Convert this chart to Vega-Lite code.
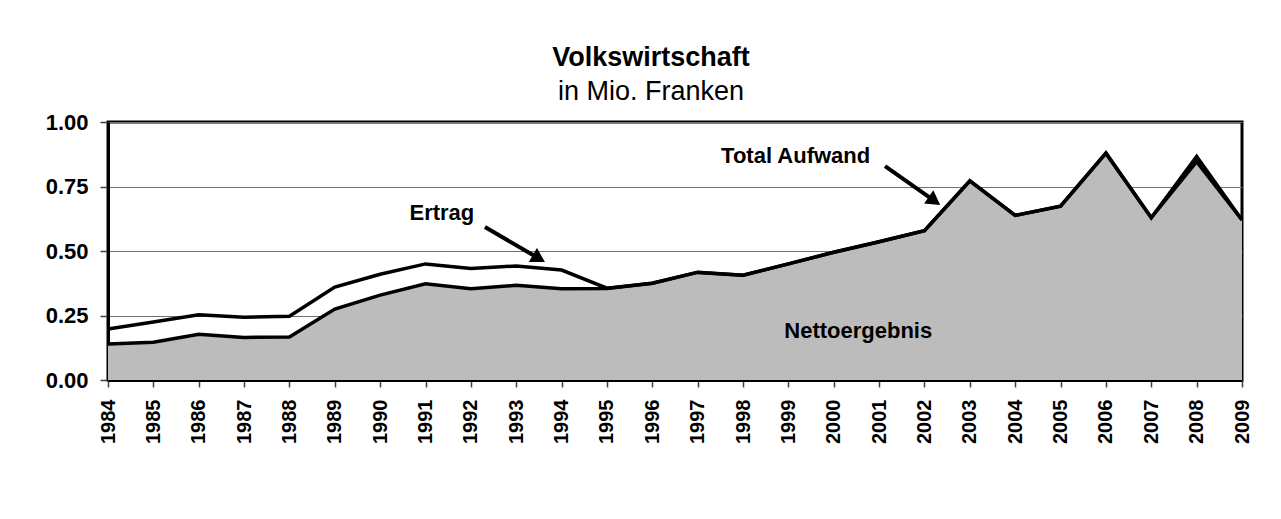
{
  "$schema": "https://vega.github.io/schema/vega-lite/v6.json",
  "autosize": {"type": "none"},
  "width": 1134,
  "height": 258,
  "padding": {"left": 108, "top": 122, "right": 39, "bottom": 139},
  "background": "white",
  "config": {
    "font": "Liberation Sans",
    "view": {"stroke": "black", "strokeWidth": 3}
  },
  "title": {
    "text": "Volkswirtschaft",
    "subtitle": "in Mio. Franken",
    "font": "Liberation Sans",
    "fontSize": 27,
    "fontWeight": "bold",
    "color": "black",
    "subtitleFont": "Liberation Sans",
    "subtitleFontSize": 27,
    "subtitleColor": "black",
    "subtitlePadding": 7,
    "anchor": "middle",
    "frame": "group",
    "dx": -24,
    "offset": 5
  },
  "datasets": {
    "series": [
      {"year": 1984, "ertrag": 0.198, "aufwand": 0.140},
      {"year": 1985, "ertrag": 0.225, "aufwand": 0.146},
      {"year": 1986, "ertrag": 0.253, "aufwand": 0.177},
      {"year": 1987, "ertrag": 0.243, "aufwand": 0.165},
      {"year": 1988, "ertrag": 0.247, "aufwand": 0.167},
      {"year": 1989, "ertrag": 0.360, "aufwand": 0.275},
      {"year": 1990, "ertrag": 0.410, "aufwand": 0.329},
      {"year": 1991, "ertrag": 0.450, "aufwand": 0.373},
      {"year": 1992, "ertrag": 0.432, "aufwand": 0.354},
      {"year": 1993, "ertrag": 0.442, "aufwand": 0.367},
      {"year": 1994, "ertrag": 0.426, "aufwand": 0.354},
      {"year": 1995, "ertrag": 0.356, "aufwand": 0.355},
      {"year": 1996, "ertrag": 0.375, "aufwand": 0.375},
      {"year": 1997, "ertrag": 0.418, "aufwand": 0.417},
      {"year": 1998, "ertrag": 0.406, "aufwand": 0.406},
      {"year": 1999, "ertrag": 0.450, "aufwand": 0.450},
      {"year": 2000, "ertrag": 0.495, "aufwand": 0.495},
      {"year": 2001, "ertrag": 0.536, "aufwand": 0.536},
      {"year": 2002, "ertrag": 0.579, "aufwand": 0.579},
      {"year": 2003, "ertrag": 0.772, "aufwand": 0.772},
      {"year": 2004, "ertrag": 0.638, "aufwand": 0.638},
      {"year": 2005, "ertrag": 0.674, "aufwand": 0.674},
      {"year": 2006, "ertrag": 0.879, "aufwand": 0.879},
      {"year": 2007, "ertrag": 0.629, "aufwand": 0.629},
      {"year": 2008, "ertrag": 0.866, "aufwand": 0.846},
      {"year": 2009, "ertrag": 0.620, "aufwand": 0.620}
    ],
    "labels": [
      {"x": 1991.36, "y": 0.62, "label": "Ertrag"},
      {"x": 1999.16, "y": 0.84, "label": "Total Aufwand"},
      {"x": 2000.54, "y": 0.162, "label": "Nettoergebnis"}
    ],
    "arrows": [
      {"name": "Ertrag", "x": 1992.31, "y": 0.593, "x2": 1993.50, "y2": 0.471},
      {"name": "Aufwand", "x": 2001.13, "y": 0.829, "x2": 2002.22, "y2": 0.694}
    ]
  },
  "layer": [
    {
      "data": {"name": "series"},
      "mark": {"type": "area", "color": "#bcbcbc"},
      "encoding": {
        "x": {
          "field": "year", "type": "quantitative",
          "scale": {"domain": [1984, 2009], "nice": false, "zero": false},
          "axis": {
            "title": null,
            "values": [1984,1985,1986,1987,1988,1989,1990,1991,1992,1993,1994,1995,1996,1997,1998,1999,2000,2001,2002,2003,2004,2005,2006,2007,2008,2009],
            "format": "d",
            "labelAngle": -90,
            "labelFontSize": 20,
            "labelFontWeight": "bold",
            "labelColor": "black",
            "labelPadding": 12,
            "labelOverlap": false,
            "labelFlush": false,
            "domainColor": "black",
            "domainWidth": 3,
            "tickColor": "#404040",
            "tickSize": 7,
            "tickWidth": 1.5,
            "grid": false
          }
        },
        "y": {
          "field": "aufwand", "type": "quantitative",
          "scale": {"domain": [0, 1], "nice": false},
          "axis": {
            "title": null,
            "values": [0, 0.25, 0.5, 0.75, 1],
            "format": ".2f",
            "labelFontSize": 22,
            "labelFontWeight": "bold",
            "labelColor": "black",
            "labelPadding": 12,
            "labelFlush": false,
            "domainColor": "black",
            "domainWidth": 3,
            "tickColor": "#404040",
            "tickSize": 8,
            "tickWidth": 1.5,
            "grid": true,
            "gridColor": "#707070",
            "gridWidth": 1
          }
        }
      }
    },
    {
      "data": {"name": "series"},
      "mark": {"type": "line", "color": "black", "strokeWidth": 3.5, "strokeJoin": "miter"},
      "encoding": {
        "x": {"field": "year", "type": "quantitative"},
        "y": {"field": "ertrag", "type": "quantitative"}
      }
    },
    {
      "data": {"name": "series"},
      "mark": {"type": "line", "color": "black", "strokeWidth": 3.5, "strokeJoin": "miter"},
      "encoding": {
        "x": {"field": "year", "type": "quantitative"},
        "y": {"field": "aufwand", "type": "quantitative"}
      }
    },
    {
      "data": {"name": "labels"},
      "mark": {"type": "text", "fontSize": 22, "fontWeight": "bold", "color": "black", "align": "center", "baseline": "alphabetic", "font": "Liberation Sans"},
      "encoding": {
        "x": {"field": "x", "type": "quantitative"},
        "y": {"field": "y", "type": "quantitative"},
        "text": {"field": "label"}
      }
    },
    {
      "data": {"name": "arrows"},
      "mark": {"type": "rule", "color": "black", "strokeWidth": 4},
      "encoding": {
        "x": {"field": "x", "type": "quantitative"},
        "y": {"field": "y", "type": "quantitative"},
        "x2": {"field": "x2"},
        "y2": {"field": "y2"}
      }
    },
    {
      "data": {"name": "arrows"},
      "transform": [{"filter": "datum.name === 'Ertrag'"}],
      "mark": {"type": "point", "shape": "triangle-right", "filled": true, "color": "black", "opacity": 1, "size": 260, "angle": 30},
      "encoding": {
        "x": {"field": "x2", "type": "quantitative"},
        "y": {"field": "y2", "type": "quantitative"}
      }
    },
    {
      "data": {"name": "arrows"},
      "transform": [{"filter": "datum.name === 'Aufwand'"}],
      "mark": {"type": "point", "shape": "triangle-right", "filled": true, "color": "black", "opacity": 1, "size": 260, "angle": 35},
      "encoding": {
        "x": {"field": "x2", "type": "quantitative"},
        "y": {"field": "y2", "type": "quantitative"}
      }
    }
  ]
}
